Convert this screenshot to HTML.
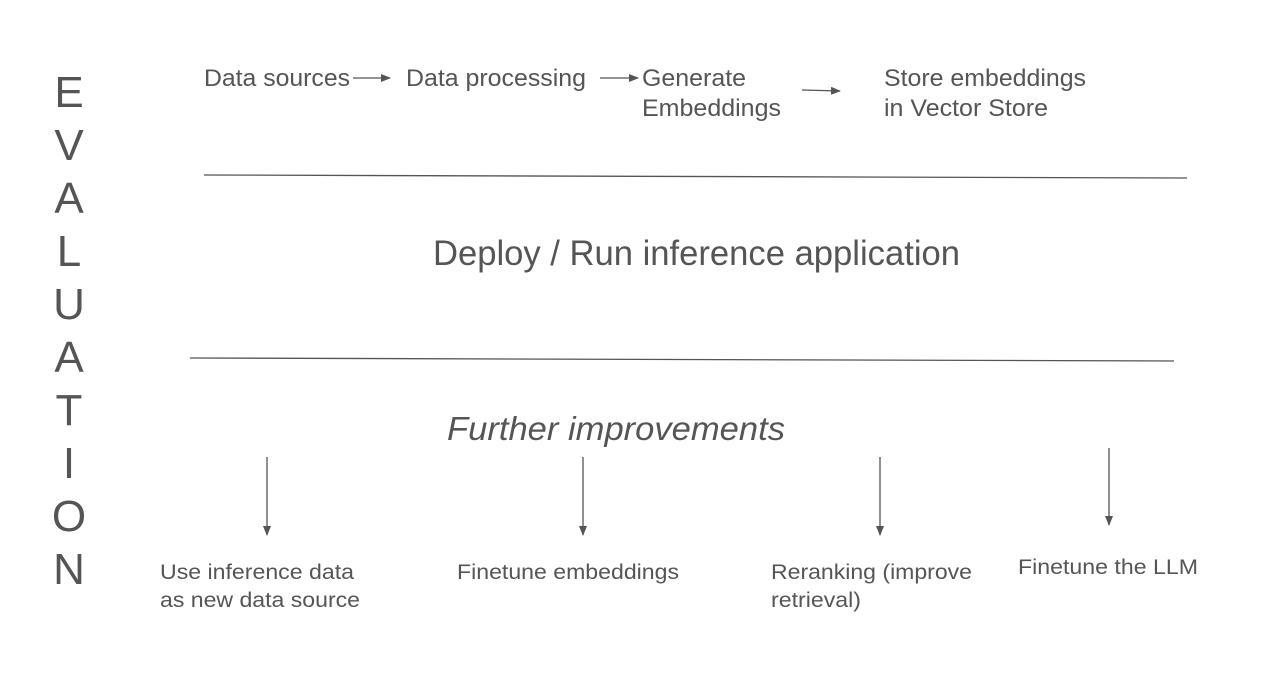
<!DOCTYPE html>
<html><head><style>body{margin:0;background:#fff}svg{display:block}</style></head><body>
<svg width="1275" height="688" viewBox="0 0 1275 688" xmlns="http://www.w3.org/2000/svg">
<defs><marker id="a" markerWidth="10" markerHeight="8" refX="9" refY="4" orient="auto" markerUnits="userSpaceOnUse"><path d="M0,0 L10,4 L0,8 Z" fill="#555"/></marker></defs>
<g font-family="Liberation Sans, sans-serif" fill="#555">
<g font-size="44" text-anchor="middle">
<text x="69" y="107">E</text><text x="69" y="160">V</text><text x="69" y="213">A</text><text x="69" y="266">L</text><text x="69" y="319">U</text><text x="69" y="372">A</text><text x="69" y="425">T</text><text x="69" y="478">I</text><text x="69" y="531">O</text><text x="69" y="584">N</text>
</g>
<g font-size="24" lengthAdjust="spacingAndGlyphs">
<text x="204" y="86" textLength="146" lengthAdjust="spacingAndGlyphs">Data sources</text>
<text x="406" y="86" textLength="180" lengthAdjust="spacingAndGlyphs">Data processing</text>
<text x="642" y="86" textLength="104" lengthAdjust="spacingAndGlyphs">Generate</text>
<text x="642" y="116" textLength="139" lengthAdjust="spacingAndGlyphs">Embeddings</text>
<text x="884" y="86" textLength="202" lengthAdjust="spacingAndGlyphs">Store embeddings</text>
<text x="884" y="116" textLength="164" lengthAdjust="spacingAndGlyphs">in Vector Store</text>
</g>
<text x="433" y="265" font-size="35" textLength="527" lengthAdjust="spacingAndGlyphs">Deploy / Run inference application</text>
<text x="447" y="440" font-size="33" font-style="italic" textLength="338" lengthAdjust="spacingAndGlyphs">Further improvements</text>
<g font-size="21.5">
<text x="160" y="579" textLength="194" lengthAdjust="spacingAndGlyphs">Use inference data</text>
<text x="160" y="607" textLength="200" lengthAdjust="spacingAndGlyphs">as new data source</text>
<text x="457" y="579" textLength="222" lengthAdjust="spacingAndGlyphs">Finetune embeddings</text>
<text x="771" y="579" textLength="201" lengthAdjust="spacingAndGlyphs">Reranking (improve</text>
<text x="771" y="607" textLength="90" lengthAdjust="spacingAndGlyphs">retrieval)</text>
<text x="1018" y="574" textLength="180" lengthAdjust="spacingAndGlyphs">Finetune the LLM</text>
</g>
</g>
<g stroke="#555" stroke-width="1.3" fill="none">
<line x1="204" y1="175" x2="1187" y2="178"/>
<line x1="190" y1="358" x2="1174" y2="361"/>
<line x1="353" y1="78" x2="390" y2="78" marker-end="url(#a)"/>
<line x1="600" y1="78" x2="638" y2="78" marker-end="url(#a)"/>
<line x1="802" y1="90" x2="840" y2="91" marker-end="url(#a)"/>
<line x1="267" y1="457" x2="267" y2="535" marker-end="url(#a)"/>
<line x1="583" y1="457" x2="583" y2="535" marker-end="url(#a)"/>
<line x1="880" y1="457" x2="880" y2="535" marker-end="url(#a)"/>
<line x1="1109" y1="448" x2="1109" y2="525" marker-end="url(#a)"/>
</g>
</svg>
</body></html>
